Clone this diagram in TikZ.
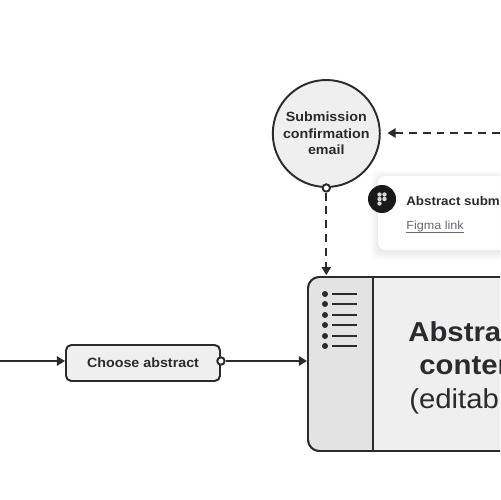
\documentclass[tikz,border=0pt]{standalone}
\usepackage{fontspec}
\setmainfont{Liberation Sans}[FakeStretch=1.07]
\usetikzlibrary{positioning, arrows.meta}
\definecolor{inkcolor}{RGB}{42, 42, 47}
\definecolor{boxcolor}{RGB}{239, 239, 239}
\definecolor{panecolor}{RGB}{227, 227, 227}
\definecolor{linkcolor}{RGB}{104, 104, 118}
\tikzset{
  flowline/.style={draw=inkcolor, line width=1.1pt, -{Triangle[length=4.6pt, width=5.2pt]}},
  dashline/.style={flowline, dash pattern=on 4.5pt off 3.4pt},
  portdot/.style={circle, draw=inkcolor, fill=white, line width=1.1pt, minimum size=4.2pt, inner sep=0pt},
  listdot/.style={circle, fill=inkcolor, minimum size=3.4pt, inner sep=0pt}
}
\begin{document}
\begin{tikzpicture}[x=0.02cm, y=-0.02cm]
        \useasboundingbox (0,0) rectangle (500,500);
        \clip (0,0) rectangle (500,500);
        \fill[white] (0,0) rectangle (500,500);
        % main box runs past the right edge
        \node[draw=inkcolor, line width=1.1pt, fill=boxcolor, rounded corners=6.5pt, minimum width=4.4cm,
              minimum height=3.48cm, inner sep=0pt] (mainbox) at (418,364) {};
        \filldraw[draw=inkcolor, line width=1.1pt, fill=panecolor, rounded corners=6.5pt]
          (373,451) -- (308,451) -- (308,277) -- (373,277);
        \draw[inkcolor, line width=1.1pt] (373,277) -- (373,451);
        \foreach \y/\n in {294/a, 304/b, 315/c, 325/d, 336/e, 346/f} {
          \node[listdot] (dot\n) at (325,\y) {};
          \coordinate (bar\n) at (357,\y);
          \draw[inkcolor, line width=1.1pt] (332,\y) -- (bar\n);
        }
        \node[anchor=base west, font=\bfseries\fontsize{15.6}{18}\selectfont, text=inkcolor, inner sep=0pt] (abstractline) at (408,341) {Abstra};
        \node[anchor=base west, font=\bfseries\fontsize{15.6}{18}\selectfont, text=inkcolor, inner sep=0pt] (contentline) at (419,374) {conten};
        \node[anchor=base west, font=\fontsize{15.6}{18}\selectfont, text=inkcolor, inner sep=0pt] (editableline) at (409,408) {(editab};
        % soft shadow under the card
        \foreach \s in {7,5,3,1} {
          \fill[black, opacity=0.018, rounded corners=4pt] (378-\s,176-\s+2) rectangle (540+\s,250+\s+2);
        }
        \node[fill=white, rounded corners=4pt, minimum width=3.6cm, minimum height=1.48cm,
              inner sep=0pt] (card) at (468,213) {};
        \node[circle, fill=black!90, minimum size=0.56cm, inner sep=0pt] (badge) at (382,199) {};
        \foreach \x/\y in {379.5/194.5, 384.5/194.5, 379.5/199, 384.5/199, 379.5/203.5} {
          \fill[black!15] (\x,\y) circle (1.25pt);
        }
        \node[anchor=base west, font=\bfseries\fontsize{7.1}{9}\selectfont, text=inkcolor, inner sep=0pt] (cardtitle) at (406,205) {Abstract subm};
        \node[anchor=base west, font=\fontsize{6.7}{9}\selectfont, text=linkcolor, inner sep=0pt] (figmalink) at (406,229) {Figma link};
        \draw[linkcolor, line width=0.5pt] ([yshift=-2pt]figmalink.base west) -- ([yshift=-2pt]figmalink.base east);
        \node[circle, draw=inkcolor, line width=1.1pt, fill=boxcolor, minimum size=2.14cm, inner sep=0pt,
              align=center, font=\bfseries\fontsize{7.6}{9.4}\selectfont, text=inkcolor] (email) at (326.3,133.5)
          {Submission\\confirmation\\email};
        \node[portdot] (emailout) at (email.south) {};
        \coordinate (rightend) at (500,133);
        \draw[dashline, shorten >=3.8pt] (rightend) -- (email.east |- rightend);
        \draw[dashline, shorten >=0.5pt] (emailout) -- (emailout |- mainbox.north);
        \node[draw=inkcolor, line width=1.1pt, fill=boxcolor, rounded corners=3pt, minimum width=3.08cm,
              minimum height=0.72cm, inner sep=0pt, font=\bfseries\fontsize{7.6}{9}\selectfont, text=inkcolor] (choose) at (143,363) {Choose abstract};
        \coordinate (leftend) at (0,361);
        \coordinate (choosein) at (choose.west |- leftend);
        \coordinate (mainin) at (mainbox.west |- leftend);
        \node[portdot] (chooseout) at (choose.east |- leftend) {};
        \draw[flowline] (leftend) -- (choosein);
        \draw[flowline] (chooseout) -- (mainin);
      \end{tikzpicture}
\end{document}
